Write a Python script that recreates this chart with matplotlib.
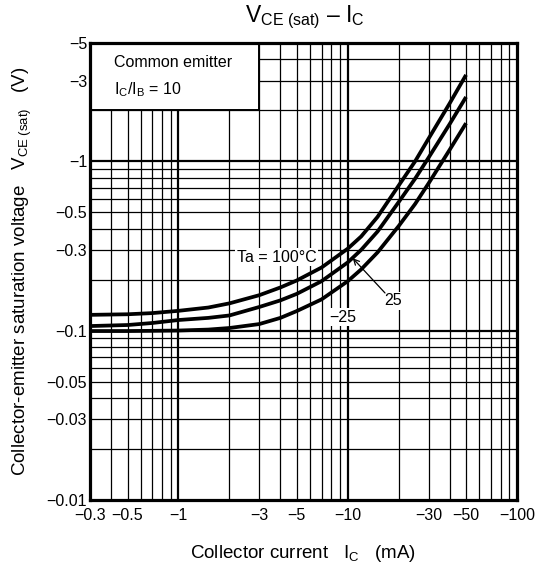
import matplotlib
matplotlib.use("Agg")
import matplotlib.pyplot as plt
from matplotlib.patches import Rectangle
from matplotlib.ticker import FixedLocator, NullFormatter

plt.rcParams['font.family'] = ['Liberation Sans', 'DejaVu Sans']
plt.rcParams['mathtext.fontset'] = 'custom'
plt.rcParams['mathtext.rm'] = 'Liberation Sans'
plt.rcParams['mathtext.it'] = 'Liberation Sans'

# Collector current |IC| (mA)
ic = [0.3, 0.5, 0.7, 1, 1.5, 2, 3, 4, 5, 7, 10, 12, 15, 20, 25, 30, 40, 50]
# |VCE(sat)| (V) for each ambient temperature
v_100 = [0.124, 0.125, 0.127, 0.131, 0.137, 0.145, 0.162, 0.180, 0.198, 0.236,
         0.305, 0.36, 0.47, 0.72, 1.0, 1.36, 2.2, 3.24]
v_25 = [0.1065, 0.108, 0.111, 0.1156, 0.119, 0.123, 0.138, 0.151, 0.165, 0.196,
        0.253, 0.30, 0.385, 0.575, 0.79, 1.05, 1.66, 2.40]
v_m25 = [0.0995, 0.0995, 0.0998, 0.1002, 0.1015, 0.1037, 0.1094, 0.119, 0.1306, 0.153,
         0.196, 0.23, 0.29, 0.415, 0.56, 0.74, 1.17, 1.68]

xticks = [0.3, 0.5, 1, 3, 5, 10, 30, 50, 100]
xticklabels = ['−0.3', '−0.5', '−1', '−3', '−5', '−10', '−30', '−50', '−100']
yticks = [0.01, 0.03, 0.05, 0.1, 0.3, 0.5, 1, 3, 5]
yticklabels = ['−0.01', '−0.03', '−0.05', '−0.1', '−0.3', '−0.5', '−1', '−3', '−5']

fig = plt.figure(figsize=(5.38, 5.71), dpi=100)
ax = fig.add_axes([90/538, 1-500/571, (517-90)/538, (500-43)/571])
ax.set_xscale('log')
ax.set_yscale('log')
ax.set_xlim(0.3, 100)
ax.set_ylim(0.01, 5)

# grid lines
xminor = [m * d for d in (0.1, 1, 10) for m in range(2, 10) if 0.3 < m * d < 100]
yminor = [m * d for d in (0.01, 0.1, 1) for m in range(2, 10) if 0.01 < m * d < 5]
for x in xminor:
    ax.axvline(x, color='black', lw=0.9, zorder=1)
for x in (1, 10):
    ax.axvline(x, color='black', lw=1.6, zorder=1)
for y in yminor:
    ax.axhline(y, color='black', lw=0.9, zorder=1)
for y in (0.1, 1):
    ax.axhline(y, color='black', lw=1.6, zorder=1)

for v in (v_100, v_25, v_m25):
    ax.plot(ic, v, color='black', lw=2.7, solid_capstyle='butt',
            solid_joinstyle='round', zorder=3)

ax.xaxis.set_major_locator(FixedLocator(xticks))
ax.set_xticklabels(xticklabels)
ax.yaxis.set_major_locator(FixedLocator(yticks))
ax.set_yticklabels(yticklabels)
ax.xaxis.set_minor_locator(FixedLocator([]))
ax.yaxis.set_minor_locator(FixedLocator([]))
ax.xaxis.set_minor_formatter(NullFormatter())
ax.yaxis.set_minor_formatter(NullFormatter())
ax.tick_params(axis='both', which='both', length=0, labelsize=11.5)
ax.tick_params(axis='x', pad=6)
ax.tick_params(axis='y', pad=2)
for s in ax.spines.values():
    s.set_linewidth(2.3)
    s.set_zorder(5)

# condition box
ax.add_patch(Rectangle((0.3, 2.0), 3.0 - 0.3, 5 - 2.0, facecolor='white',
                       edgecolor='black', lw=1.4, zorder=4))
ax.text(0.416, 3.86, 'Common emitter', fontsize=11.5, va='center', ha='left', zorder=6)
ax.text(0.416, 2.64, r'I$_{\mathrm{C}}$/I$_{\mathrm{B}}$ = 10', fontsize=11.5,
        va='center', ha='left', zorder=6)

# curve labels
ax.text(3.8, 0.272, 'Ta = 100°C', fontsize=11.5, ha='center', va='center', zorder=4,
        bbox=dict(facecolor='white', edgecolor='none', pad=1))
ax.text(18.5, 0.150, '25', fontsize=11.5, ha='center', va='center', zorder=4,
        bbox=dict(facecolor='white', edgecolor='none', pad=1))
ax.text(9.4, 0.120, '−25', fontsize=11.5, ha='center', va='center', zorder=4,
        bbox=dict(facecolor='white', edgecolor='none', pad=1))
ax.annotate('', xy=(10.7, 0.268), xytext=(16.6, 0.167), zorder=6,
            arrowprops=dict(arrowstyle='->', color='black', lw=0.9,
                            shrinkA=0, shrinkB=0))

fig.text(305/538, 1-17/571, r'V$_{\mathrm{CE\ (sat)}}$ – I$_{\mathrm{C}}$',
         fontsize=16.5, ha='center', va='center')
fig.text(303/538, 1-554/571, r'Collector current   I$_{\mathrm{C}}$   (mA)',
         fontsize=13.5, ha='center', va='center')
fig.text(22/538, 1-271/571,
         r'Collector-emitter saturation voltage   V$_{\mathrm{CE\ (sat)}}$   (V)',
         fontsize=13.5, ha='center', va='center', rotation=90)

fig.savefig('out.png', dpi=100)
